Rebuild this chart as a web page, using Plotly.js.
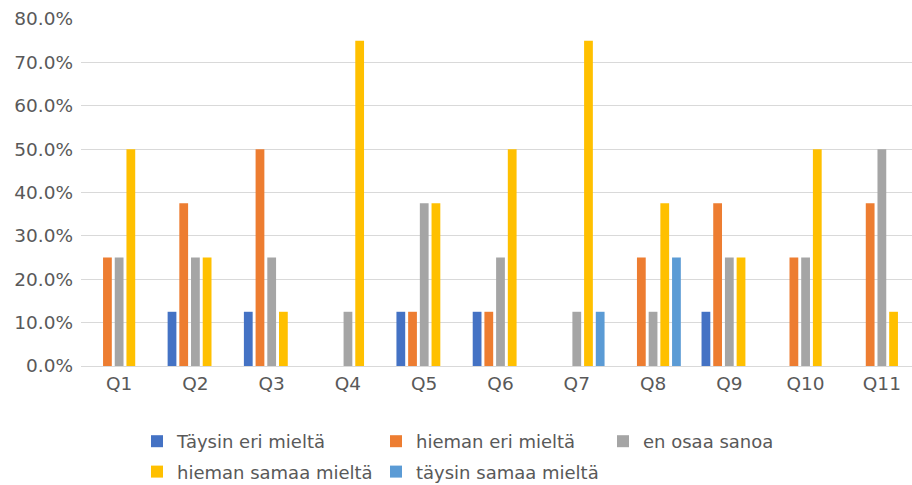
<!DOCTYPE html>
<html>
<head>
<meta charset="utf-8">
<script src="https://cdn.plot.ly/plotly-3.0.1.min.js"></script>
<style>
  html, body { margin: 0; padding: 0; overflow: hidden; background: #ffffff; }
  #chart { width: 920px; height: 485px; }
</style>
</head>
<body>
<div id="chart"></div>
<script>
// Survey questions
const questions = ['Q1', 'Q2', 'Q3', 'Q4', 'Q5', 'Q6', 'Q7', 'Q8', 'Q9', 'Q10', 'Q11'];

// Answer options
const answerNames = [
  'Täysin eri mieltä',
  'hieman eri mieltä',
  'en osaa sanoa',
  'hieman samaa mieltä',
  'täysin samaa mieltä'
];

// Share of respondents per answer option (fractions)
const taysinEri   = [0,     0.125, 0.125, 0,     0.125, 0.125, 0,     0,     0.125, 0,    0];
const hiemanEri   = [0.25,  0.375, 0.5,   0,     0.125, 0.125, 0,     0.25,  0.375, 0.25, 0.375];
const enOsaa      = [0.25,  0.25,  0.25,  0.125, 0.375, 0.25,  0.125, 0.125, 0.25,  0.25, 0.5];
const hiemanSamaa = [0.5,   0.25,  0.125, 0.75,  0.375, 0.5,   0.75,  0.375, 0.25,  0.5,  0.125];
const taysinSamaa = [0,     0,     0,     0,     0,     0,     0.125, 0.25,  0,     0,    0];

const yTicks = [0, 0.1, 0.2, 0.3, 0.4, 0.5, 0.6, 0.7, 0.8];

const seriesValues = [taysinEri, hiemanEri, enOsaa, hiemanSamaa, taysinSamaa];
const seriesColors = ['#4472C4', '#ED7D31', '#A5A5A5', '#FFC000', '#5B9BD5'];
// legend columns: two rows, three columns
const legendIds = ['legend', 'legend2', 'legend3', 'legend', 'legend2'];

const FONT = 'DejaVu Sans, sans-serif';
const TEXT = '#595959';

const traces = seriesValues.map((vals, i) => ({
  type: 'bar',
  name: answerNames[i],
  x: questions,
  y: vals,
  marker: { color: seriesColors[i] },
  legend: legendIds[i],
  legendgroup: 'g' + i,
  hoverinfo: 'x+y+name'
}));

const W = 920, H = 485;
const legendBase = {
  orientation: 'v',
  xref: 'container', yref: 'container',
  xanchor: 'left', yanchor: 'top',
  y: 1 - 423 / H,
  bgcolor: 'rgba(0,0,0,0)',
  borderwidth: 0,
  tracegroupgap: 4,
  font: { family: FONT, size: 18, color: TEXT }
};

const layout = {
  width: W,
  height: H,
  margin: { l: 81, r: 0, t: 19, b: 119, autoexpand: false },
  paper_bgcolor: '#ffffff',
  plot_bgcolor: '#ffffff',
  barmode: 'group',
  bargap: 0.233,
  bargroupgap: 0.25,
  font: { family: FONT, color: TEXT },
  xaxis: {
    type: 'category',
    showgrid: false,
    showline: false,
    zeroline: false,
    ticks: '',
    ticklabelstandoff: 4,
    tickfont: { family: FONT, size: 18.5, color: TEXT },
    fixedrange: true
  },
  yaxis: {
    range: [0, 0.8],
    tickvals: yTicks,
    tickformat: '.1%',
    showgrid: true,
    gridcolor: '#D9D9D9',
    gridwidth: 1,
    zeroline: true,
    zerolinecolor: '#D9D9D9',
    zerolinewidth: 1,
    showline: false,
    ticks: '',
    ticklabelstandoff: 7,
    tickfont: { family: FONT, size: 18.5, color: TEXT },
    fixedrange: true
  },
  showlegend: true,
  legend:  Object.assign({}, legendBase, { x: 137 / W }),
  legend2: Object.assign({}, legendBase, { x: 376 / W }),
  legend3: Object.assign({}, legendBase, { x: 603 / W })
};

Plotly.newPlot('chart', traces, layout, { displayModeBar: false, staticPlot: true });
</script>
</body>
</html>
